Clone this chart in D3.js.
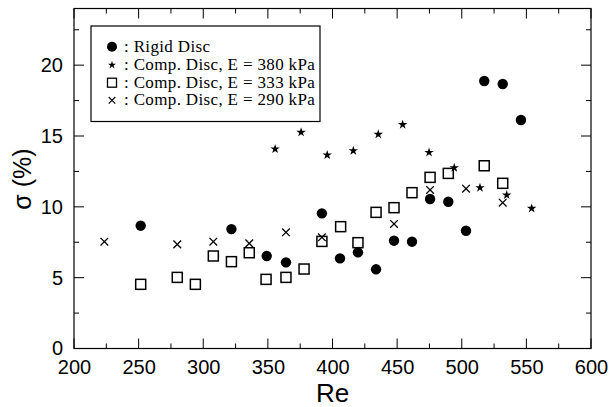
<!DOCTYPE html>
<html>
<head>
<meta charset="utf-8">
<script src="https://cdn.jsdelivr.net/npm/d3@7"></script>
<style>
  html, body { margin: 0; padding: 0; background: #fff; }
  svg { display: block; }
</style>
</head>
<body>
<svg id="chart" width="612" height="407"></svg>
<script>
// Standard deviation sigma (%) against Reynolds number for each disc type
const rigidRe    = [251.6, 321.8, 349.1, 364.0, 391.8, 405.8, 419.7, 433.7, 447.6, 461.5, 475.5, 489.6, 503.3, 517.4, 531.7, 545.8];
const rigidSigma = [8.67, 8.43, 6.53, 6.08, 9.54, 6.36, 6.79, 5.59, 7.61, 7.54, 10.55, 10.36, 8.31, 18.88, 18.67, 16.13];

const comp380Re    = [355.6, 375.7, 395.9, 416.1, 435.4, 454.3, 474.7, 494.2, 514.1, 534.8, 554.1];
const comp380Sigma = [14.08, 15.26, 13.66, 13.96, 15.12, 15.80, 13.84, 12.76, 11.35, 10.83, 9.89];

const comp333Re    = [251.6, 279.9, 293.9, 307.8, 321.8, 335.6, 348.6, 364.0, 378.0, 391.8, 406.3, 419.7, 433.7, 447.6, 461.5, 475.5, 489.6, 517.4, 531.7];
const comp333Sigma = [4.53, 5.02, 4.53, 6.53, 6.13, 6.76, 4.88, 5.02, 5.61, 7.56, 8.60, 7.47, 9.61, 9.94, 11.00, 12.08, 12.36, 12.90, 11.66];

const comp290Re    = [223.5, 279.9, 307.8, 335.6, 364.0, 391.8, 447.6, 475.5, 503.3, 531.7];
const comp290Sigma = [7.54, 7.35, 7.54, 7.42, 8.20, 7.85, 8.79, 11.19, 11.28, 10.29];

const xTicks = [200, 250, 300, 350, 400, 450, 500, 550, 600];
const yTicks = [0, 5, 10, 15, 20];
const legendLabels = [": Rigid Disc", ": Comp. Disc, E = 380 kPa", ": Comp. Disc, E = 333 kPa", ": Comp. Disc, E = 290 kPa"];

const svg = d3.select("#chart");
const plotL = 74, plotR = 591, plotT = 8.5, plotB = 348.5;

const x = d3.scaleLinear().domain([200, 600]).range([plotL, plotR]);
const y = d3.scaleLinear().domain([0, 24]).range([plotB, plotT]);

const minorX = d3.range(200, 601, 25);
const minorY = d3.range(0, 24.01, 2.5);

// plot frame
svg.append("rect")
  .attr("x", plotL).attr("y", plotT)
  .attr("width", plotR - plotL).attr("height", plotB - plotT)
  .attr("fill", "none").attr("stroke", "#000").attr("stroke-width", 1.2);

// inward ticks on all four sides
const tickG = svg.append("g").attr("stroke", "#000").attr("stroke-width", 1);
minorX.forEach(v => {
  const len = v % 50 === 0 ? 10 : 5;
  tickG.append("line").attr("x1", x(v)).attr("x2", x(v)).attr("y1", plotB).attr("y2", plotB - len);
  tickG.append("line").attr("x1", x(v)).attr("x2", x(v)).attr("y1", plotT).attr("y2", plotT + len);
});
minorY.forEach(v => {
  const len = v % 5 === 0 ? 10 : 5;
  tickG.append("line").attr("y1", y(v)).attr("y2", y(v)).attr("x1", plotL).attr("x2", plotL + len);
  tickG.append("line").attr("y1", y(v)).attr("y2", y(v)).attr("x1", plotR).attr("x2", plotR - len);
});

// tick labels through d3 axes (tick lines hidden)
const xAxis = svg.append("g")
  .attr("transform", `translate(0,${plotB})`)
  .call(d3.axisBottom(x).tickValues(xTicks).tickSize(0).tickPadding(11));
const yAxis = svg.append("g")
  .attr("transform", `translate(${plotL},0)`)
  .call(d3.axisLeft(y).tickValues(yTicks).tickSize(0).tickPadding(11));
[xAxis, yAxis].forEach(g => {
  g.select(".domain").remove();
  g.selectAll("text")
    .attr("font-family", "Liberation Sans, Arial, sans-serif")
    .attr("font-size", 20)
    .attr("fill", "#000");
});

// axis titles
svg.append("text")
  .attr("x", (plotL + plotR) / 2).attr("y", 402)
  .attr("text-anchor", "middle")
  .attr("font-family", "Liberation Sans, Arial, sans-serif")
  .attr("font-size", 26)
  .text("Re");
svg.append("text")
  .attr("transform", `translate(31,179) rotate(-90)`)
  .attr("text-anchor", "middle")
  .attr("font-family", "Liberation Sans, Arial, sans-serif")
  .attr("font-size", 25)
  .text("σ (%)");

// markers
const star = d3.symbol().type(d3.symbolStar).size(28);
const legendStar = d3.symbol().type(d3.symbolStar).size(20);
const cross = d3.symbol().type(d3.symbolTimes).size(40);

const marks = svg.append("g");

function drawCircles(g, xs, ys) {
  g.selectAll(null).data(xs).join("circle")
    .attr("cx", d => x(d)).attr("cy", (d, i) => y(ys[i]))
    .attr("r", 5.2).attr("fill", "#000");
}
function drawStars(g, xs, ys) {
  g.selectAll(null).data(xs).join("path")
    .attr("d", star)
    .attr("transform", (d, i) => `translate(${x(d)},${y(ys[i])})`)
    .attr("fill", "#000");
}
function drawSquares(g, xs, ys) {
  g.selectAll(null).data(xs).join("rect")
    .attr("x", d => x(d) - 5).attr("y", (d, i) => y(ys[i]) - 5)
    .attr("width", 10).attr("height", 10)
    .attr("fill", "none").attr("stroke", "#000").attr("stroke-width", 1.5);
}
function drawCrosses(g, xs, ys) {
  g.selectAll(null).data(xs).join("path")
    .attr("d", cross)
    .attr("transform", (d, i) => `translate(${x(d)},${y(ys[i])})`)
    .attr("fill", "none").attr("stroke", "#000").attr("stroke-width", 1.3);
}

drawSquares(marks.append("g"), comp333Re, comp333Sigma);
drawCrosses(marks.append("g"), comp290Re, comp290Sigma);
drawStars(marks.append("g"), comp380Re, comp380Sigma);
drawCircles(marks.append("g"), rigidRe, rigidSigma);

// legend
const legend = svg.append("g");
legend.append("rect")
  .attr("x", 91).attr("y", 26).attr("width", 229).attr("height", 95.5)
  .attr("fill", "#fff").attr("stroke", "#000").attr("stroke-width", 1.2);

const rowY = [46.7, 65, 82.7, 100.3];
const mx = 112;
legend.append("circle").attr("cx", mx).attr("cy", rowY[0]).attr("r", 5).attr("fill", "#000");
legend.append("path").attr("d", legendStar).attr("transform", `translate(${mx},${rowY[1]})`).attr("fill", "#000");
legend.append("rect").attr("x", mx - 4.5).attr("y", rowY[2] - 4.5).attr("width", 9).attr("height", 9)
  .attr("fill", "none").attr("stroke", "#000").attr("stroke-width", 1.3);
legend.append("path").attr("d", d3.symbol().type(d3.symbolTimes).size(30))
  .attr("transform", `translate(${mx},${rowY[3]})`)
  .attr("fill", "none").attr("stroke", "#000").attr("stroke-width", 1.1);

legend.selectAll("text.lbl").data(legendLabels).join("text")
  .attr("class", "lbl")
  .attr("x", 124).attr("y", (d, i) => rowY[i] + 5)
  .attr("font-family", "Liberation Serif, Times New Roman, serif")
  .attr("font-size", 17)
  .attr("letter-spacing", 0.35)
  .text(d => d);
</script>
</body>
</html>
